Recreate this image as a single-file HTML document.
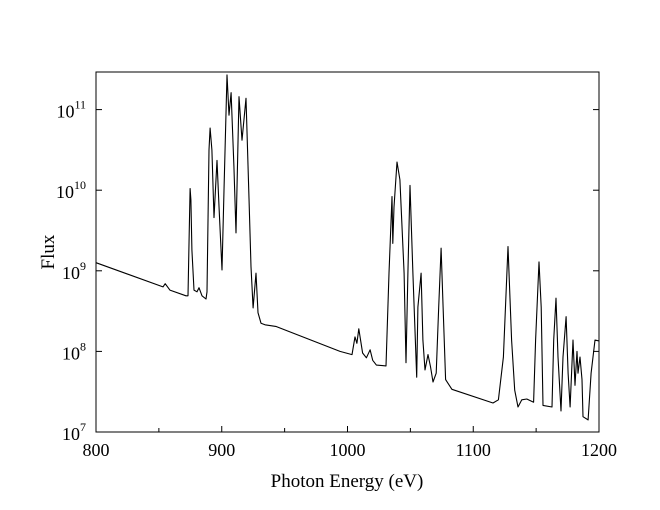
<!DOCTYPE html>
<html><head><meta charset="utf-8"><style>
html,body{margin:0;padding:0;background:#fff;}
svg{display:block;font-family:"Liberation Serif",serif;}
</style></head><body>
<svg id="chart" width="660" height="510" viewBox="0 0 660 510" xmlns="http://www.w3.org/2000/svg">
<rect x="96" y="72" width="503" height="360" fill="none" stroke="#000" stroke-width="1"/>
<g id="ticks"></g>
<path id="series" fill="none" stroke="#000" stroke-width="1.1" stroke-linejoin="round"/>
<text x="347" y="487" font-size="19" text-anchor="middle">Photon Energy (eV)</text>
<text x="54" y="252" font-size="19" text-anchor="middle" transform="rotate(-90 54 252)">Flux</text>
</svg>
<script>
const energy = [800,853.3,855,858.8,871.6,873.2,874,874.8,875.5,876.3,877.9,880.3,881.9,884.3,887.5,888.3,889.9,890.7,892.2,893.8,896.2,897.8,900.2,901.8,904.2,905.8,907.4,909.7,911.3,913.7,916.1,919.3,921.7,923.3,924.9,927.2,928.8,931.2,934.4,943,994,1003.6,1006,1007.5,1009,1012,1015,1018,1020,1023,1030.6,1033,1035.4,1036,1037,1039.4,1041.7,1045,1046.5,1048,1049.7,1052,1055,1056,1058.5,1060,1061.6,1064,1066,1068,1070.5,1072.5,1074.4,1076,1078,1083,1115.7,1120,1124,1127.6,1130.5,1133,1135.6,1138.6,1142.6,1148,1149.6,1152.3,1154,1155.5,1162.6,1164,1165.8,1167.4,1169.8,1171.4,1173.8,1175.4,1177,1179.3,1180.9,1182.5,1183.3,1184.9,1186.5,1187.3,1191.3,1193.7,1196.8,1200];
const logFlux = [9.10,8.80,8.84,8.76,8.69,8.69,9.4,10.02,9.88,9.26,8.76,8.74,8.79,8.69,8.65,8.74,10.50,10.77,10.50,9.66,10.37,9.80,9.01,10.0,11.43,10.93,11.21,10.3,9.47,11.16,10.62,11.14,9.9,9.05,8.54,8.97,8.48,8.35,8.33,8.31,8.0,7.96,8.18,8.10,8.28,7.98,7.92,8.02,7.89,7.83,7.82,8.97,9.92,9.34,9.79,10.35,10.13,8.97,7.86,8.97,10.06,8.97,7.68,8.55,8.97,8.14,7.77,7.96,7.81,7.62,7.73,8.55,9.28,8.55,7.65,7.53,7.36,7.40,7.93,9.30,8.14,7.52,7.31,7.40,7.41,7.37,8.14,9.11,8.55,7.33,7.31,8.14,8.66,7.93,7.26,7.93,8.43,7.73,7.31,8.14,7.58,8.00,7.73,7.93,7.65,7.19,7.15,7.73,8.14,8.13];
const xTickValues = [800,900,1000,1100,1200];
const xMinorTicks = [850,950,1050,1150];
const yTickExponents = [7,8,9,10,11];

const X0=96,X1=599,Y0=432,DEC=80.6;
function xScale(e){return X0+(e-800)/400*(X1-X0);}
function yScale(l){return Y0-(l-7)*DEC;}
const NS="http://www.w3.org/2000/svg";
const svg=document.getElementById('chart');
const tg=document.getElementById('ticks');
function line(x1,y1,x2,y2,name){
  const l=document.createElementNS(NS,'line');
  l.setAttribute('x1',x1);l.setAttribute('y1',y1);l.setAttribute('x2',x2);l.setAttribute('y2',y2);
  l.setAttribute('stroke','#000');l.setAttribute('stroke-width','1');
  
  
  tg.appendChild(l);
}
xTickValues.forEach(v=>{
  const x=xScale(v);
  line(x,Y0,x,Y0-6,'x-tick');
  const t=document.createElementNS(NS,'text');
  t.setAttribute('x',x);t.setAttribute('y',456);t.setAttribute('font-size','18');t.setAttribute('text-anchor','middle');
  t.textContent=v;
  
  
  svg.appendChild(t);
});
xMinorTicks.forEach(v=>{const x=xScale(v);line(x,Y0,x,Y0-4,'x-minor-tick');});
yTickExponents.forEach(p=>{
  const y=yScale(p);
  line(X0,y,X0+6,y,'y-tick');
  line(X1,y,X1-6,y,'y-tick-right');
  const t=document.createElementNS(NS,'text');
  t.setAttribute('x',X0-10);t.setAttribute('y',y+8);t.setAttribute('font-size','18');t.setAttribute('text-anchor','end');
  const s=document.createElementNS(NS,'tspan');s.textContent='10';
  const sup=document.createElementNS(NS,'tspan');sup.textContent=p;sup.setAttribute('font-size','12');sup.setAttribute('dy','-9');
  t.appendChild(s);t.appendChild(sup);
  
  
  svg.appendChild(t);
});
let d='';
energy.forEach((e,i)=>{d+=(i?'L':'M')+xScale(e).toFixed(1)+','+yScale(logFlux[i]).toFixed(1);});
document.getElementById('series').setAttribute('d',d);
</script>
</body></html>
